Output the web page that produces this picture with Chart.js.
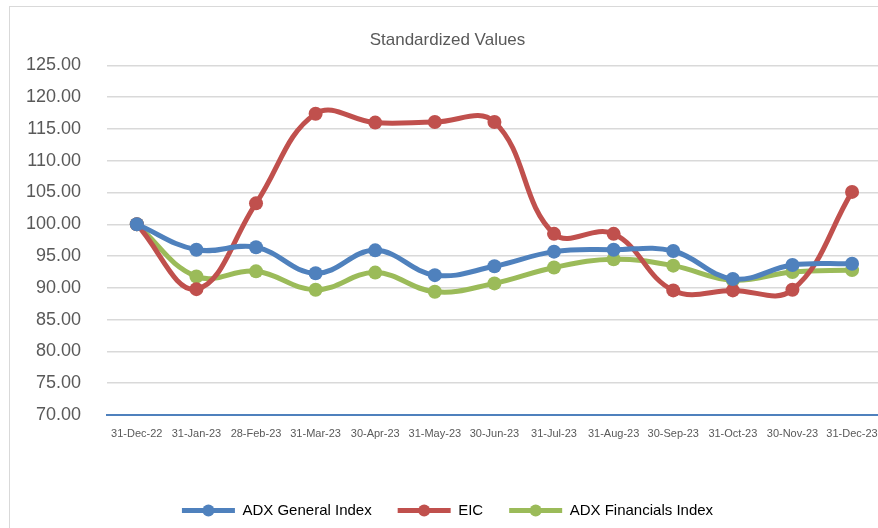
<!DOCTYPE html>
<html>
<head>
<meta charset="utf-8">
<script src="https://cdn.jsdelivr.net/npm/chart.js"></script>
<style>
  html, body { margin: 0; padding: 0; background: #fff; overflow: hidden; }
  .chart-wrapper {
    position: absolute;
    left: 9px;
    top: 6px;
    width: 880px;
    height: 522px;
    border: 1px solid #d9d9d9;
    border-right: none;
    border-bottom: none;
  }
</style>
</head>
<body>
<div class="chart-wrapper"><canvas id="chart"></canvas></div>
<script>
const LABELS = [
  "31-Dec-22", "31-Jan-23", "28-Feb-23", "31-Mar-23", "30-Apr-23", "31-May-23", "30-Jun-23",
  "31-Jul-23", "31-Aug-23", "30-Sep-23", "31-Oct-23", "30-Nov-23", "31-Dec-23",
];

const ADX_GENERAL = [100.0, 96.0, 96.4, 92.3, 95.9, 92.0, 93.4, 95.7, 96.0, 95.8, 91.4, 93.6, 93.8];
const EIC = [100.0, 89.8, 103.3, 117.4, 116.0, 116.1, 116.1, 98.5, 98.5, 89.6, 89.6, 89.7, 105.1];
const ADX_FINANCIALS = [100.0, 91.8, 92.6, 89.7, 92.4, 89.4, 90.7, 93.2, 94.5, 93.5, 91.2, 92.5, 92.8];

const SERIES_NAMES = ["ADX General Index", "EIC", "ADX Financials Index"];
const SERIES_COLORS = ["#4f81bd", "#c0504d", "#9bbb59"];

const TEXT_COLOR = "#595959";
const FONT = "'Liberation Sans', Arial, sans-serif";

const makeDataset = (name, data, color) => ({
  label: name,
  data: data,
  borderColor: color,
  backgroundColor: color,
  borderWidth: 5,
  pointRadius: 7,
  pointBorderWidth: 0,
  pointBackgroundColor: color,
  tension: 0.4,
  fill: false,
});

// draw a dot in the middle of each legend line, like the Excel marker legend
const legendMarkers = {
  id: "legendMarkers",
  afterDraw(chart) {
    const legend = chart.legend;
    if (!legend || !legend.legendHitBoxes) return;
    const ctx = chart.ctx;
    const boxWidth = legend.options.labels.boxWidth;
    legend.legendHitBoxes.forEach((box, i) => {
      ctx.save();
      ctx.fillStyle = SERIES_COLORS[i];
      ctx.beginPath();
      ctx.arc(box.left + boxWidth / 2, box.top + box.height / 2, 6, 0, Math.PI * 2);
      ctx.fill();
      ctx.restore();
    });
  },
};

new Chart(document.getElementById("chart"), {
  type: "line",
  data: {
    labels: LABELS,
    datasets: [
      makeDataset(SERIES_NAMES[0], ADX_GENERAL, SERIES_COLORS[0]),
      makeDataset(SERIES_NAMES[1], EIC, SERIES_COLORS[1]),
      makeDataset(SERIES_NAMES[2], ADX_FINANCIALS, SERIES_COLORS[2]),
    ],
  },
  options: {
    responsive: true,
    maintainAspectRatio: false,
    animation: false,
    layout: { padding: { left: 0, right: 5, top: 0, bottom: 1 } },
    plugins: {
      title: {
        display: true,
        text: "Standardized Values",
        color: TEXT_COLOR,
        font: { family: FONT, size: 17, weight: "normal" },
        padding: { top: 23, bottom: 15 },
      },
      legend: {
        display: true,
        position: "bottom",
        labels: {
          color: "#404040",
          font: { family: FONT, size: 15 },
          boxWidth: 53,
          boxHeight: 5,
          padding: 26,
          generateLabels(chart) {
            return chart.data.datasets.map((ds, i) => ({
              text: ds.label,
              fillStyle: ds.borderColor,
              strokeStyle: ds.borderColor,
              lineWidth: 0,
              hidden: false,
              datasetIndex: i,
            }));
          },
        },
      },
      tooltip: { enabled: false },
    },
    scales: {
      x: {
        offset: true,
        grid: { display: false, drawTicks: false },
        border: { display: true, color: "#4f81bd", width: 2 },
        ticks: {
          color: TEXT_COLOR,
          font: { family: "'Liberation Sans Narrow', 'Liberation Sans', sans-serif", size: 11 },
          maxRotation: 0,
          autoSkip: false,
          padding: 12,
        },
        afterFit(scale) { scale.height = 62; },
      },
      y: {
        min: 70,
        max: 125,
        grid: { color: "#d9d9d9", lineWidth: 1.5, drawTicks: false },
        border: { display: false },
        ticks: {
          stepSize: 5,
          color: TEXT_COLOR,
          font: { family: FONT, size: 18 },
          padding: 26,
          callback: (v) => v.toFixed(2),
        },
        afterFit(scale) { scale.width = 97; },
      },
    },
  },
  plugins: [legendMarkers],
});
</script>
</body>
</html>
